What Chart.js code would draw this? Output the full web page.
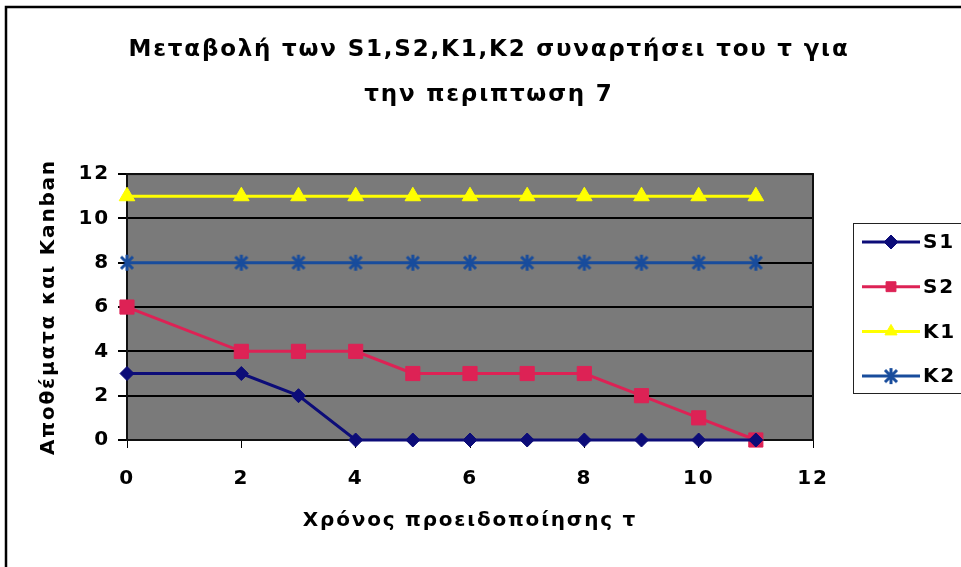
<!DOCTYPE html>
<html>
<head>
<meta charset="utf-8">
<script src="https://cdn.jsdelivr.net/npm/chart.js@4.4.1/dist/chart.umd.min.js"></script>
<style>
html, body { margin: 0; padding: 0; background: #fff; }
</style>
</head>
<body>
<canvas id="chart" width="961" height="567"></canvas>
<script>
const times = [0, 2, 3, 4, 5, 6, 7, 8, 9, 10, 11];
const s1 = [3, 3, 2, 0, 0, 0, 0, 0, 0, 0, 0];
const s2 = [6, 4, 4, 4, 3, 3, 3, 3, 2, 1, 0];
const k1 = [11, 11, 11, 11, 11, 11, 11, 11, 11, 11, 11];
const k2 = [8, 8, 8, 8, 8, 8, 8, 8, 8, 8, 8];
const seriesNames = ["S1", "S2", "K1", "K2"];

const FONT = "'DejaVu Sans', Arial, sans-serif";
const colors = ["#0c0c78", "#dd2255", "#ffff00", "#184c9c"];

// Excel-style star marker: an x with a vertical bar through it
function starMarker(color) {
  const c = document.createElement("canvas");
  c.width = 18; c.height = 18;
  const g = c.getContext("2d");
  g.strokeStyle = color;
  g.lineWidth = 3;
  g.beginPath();
  g.moveTo(3, 3); g.lineTo(15, 15);
  g.moveTo(15, 3); g.lineTo(3, 15);
  g.moveTo(9, 1); g.lineTo(9, 17);
  g.stroke();
  return c;
}

const markers = [
  { pointStyle: "rectRot", pointRadius: 7 },
  { pointStyle: "rect", pointRadius: 10 },
  { pointStyle: "triangle", pointRadius: 9 },
  { pointStyle: starMarker(colors[3]), pointRadius: 8 }
];

const toPoints = vals => vals.map((v, i) => ({ x: times[i], y: v }));

const datasets = [s1, s2, k1, k2].map((vals, i) => ({
  label: seriesNames[i],
  data: toPoints(vals),
  borderColor: colors[i],
  backgroundColor: colors[i],
  pointBackgroundColor: colors[i],
  pointBorderColor: colors[i],
  pointBorderWidth: 1,
  borderWidth: 3,
  pointStyle: markers[i].pointStyle,
  pointRadius: markers[i].pointRadius,
  pointHoverRadius: markers[i].pointRadius,
  clip: false,
  tension: 0
}));

// gray plot area, outer frame and the boxed legend on the right
const plotFrame = {
  id: "plotFrame",
  beforeDraw(chart) {
    const { ctx, chartArea: a } = chart;
    ctx.letterSpacing = "1.8px";
    ctx.save();
    ctx.fillStyle = "#fff";
    ctx.fillRect(0, 0, chart.width, chart.height);
    ctx.strokeStyle = "#000";
    ctx.lineWidth = 2.5;
    ctx.beginPath();
    ctx.moveTo(6, chart.height);
    ctx.lineTo(6, 7);
    ctx.lineTo(chart.width, 7);
    ctx.stroke();
    ctx.fillStyle = "#7a7a7a";
    ctx.fillRect(a.left, a.top, a.right - a.left, a.bottom - a.top);
    ctx.restore();
  },
  beforeDatasetsDraw(chart) {
    const { ctx, chartArea: a } = chart;
    ctx.save();
    ctx.strokeStyle = "#111";
    ctx.lineWidth = 2;
    ctx.strokeRect(a.left, a.top, a.right - a.left, a.bottom - a.top);
    ctx.restore();
  },
  afterDraw(chart) {
    const { ctx, chartArea: a } = chart;
    const left = a.right + 40, top = 223;
    ctx.save();
    ctx.strokeStyle = "#222";
    ctx.lineWidth = 1;
    ctx.strokeRect(left + 0.5, top + 0.5, 130, 170);
    ctx.font = "bold 20px " + FONT;
    ctx.textBaseline = "middle";
    chart.data.datasets.forEach((ds, i) => {
      const y = top + 19 + i * 44.7;
      ctx.strokeStyle = ds.borderColor;
      ctx.lineWidth = ds.borderWidth;
      ctx.beginPath();
      ctx.moveTo(left + 9, y);
      ctx.lineTo(left + 67, y);
      ctx.stroke();
      ctx.fillStyle = ds.pointBackgroundColor;
      ctx.strokeStyle = ds.pointBorderColor;
      ctx.lineWidth = 1;
      Chart.helpers.drawPoint(ctx, {
        pointStyle: ds.pointStyle,
        radius: Math.min(ds.pointRadius, 7),
        rotation: 0,
        borderWidth: 1
      }, left + 38, y);
      ctx.fillStyle = "#000";
      ctx.fillText(ds.label, left + 70, y + 1);
    });
    ctx.restore();
  }
};

new Chart("chart", {
  type: "line",
  data: { datasets: datasets },
  options: {
    responsive: false,
    animation: false,
    events: [],
    layout: { padding: { left: 17, right: 0, top: 0, bottom: 0 } },
    plugins: {
      legend: { display: false },
      tooltip: { enabled: false },
      title: {
        display: true,
        text: ["Μεταβολή των S1,S2,K1,K2 συναρτήσει του τ για", "την περιπτωση 7"],
        color: "#000",
        font: { family: FONT, size: 23, weight: "bold", lineHeight: 1.98 },
        padding: { top: 27, bottom: 56 }
      }
    },
    scales: {
      x: {
        type: "linear",
        min: 0,
        max: 12,
        ticks: {
          stepSize: 2,
          color: "#000",
          padding: 19,
          font: { family: FONT, size: 20, weight: "bold" }
        },
        grid: { drawOnChartArea: false, drawTicks: true, tickLength: 8, color: "#000", lineWidth: 1 },
        border: { display: true, color: "#111", width: 2 },
        title: {
          display: true,
          text: "Χρόνος προειδοποίησης τ",
          color: "#000",
          font: { family: FONT, size: 20, weight: "bold" },
          padding: { top: 0, bottom: 34 }
        },
        afterFit(scale) { scale.height = 127; }
      },
      y: {
        min: 0,
        max: 12,
        ticks: {
          stepSize: 2,
          color: "#000",
          padding: 8,
          font: { family: FONT, size: 20, weight: "bold" }
        },
        grid: { color: "#000", lineWidth: 2, tickLength: 9, tickColor: "#000" },
        border: { display: true, color: "#111", width: 2 },
        title: {
          display: true,
          text: "Αποθέματα και Kanban",
          color: "#000",
          font: { family: FONT, size: 20, weight: "bold" },
          padding: { top: 20, bottom: 0 }
        },
        afterFit(scale) { scale.width = 110; }
      },
      // empty axis that keeps room for the legend box
      legendRoom: {
        type: "linear",
        position: "right",
        display: true,
        grid: { display: false },
        ticks: { display: false },
        border: { display: false },
        afterFit(scale) { scale.width = 148; }
      }
    }
  },
  plugins: [plotFrame]
});
</script>
</body>
</html>
